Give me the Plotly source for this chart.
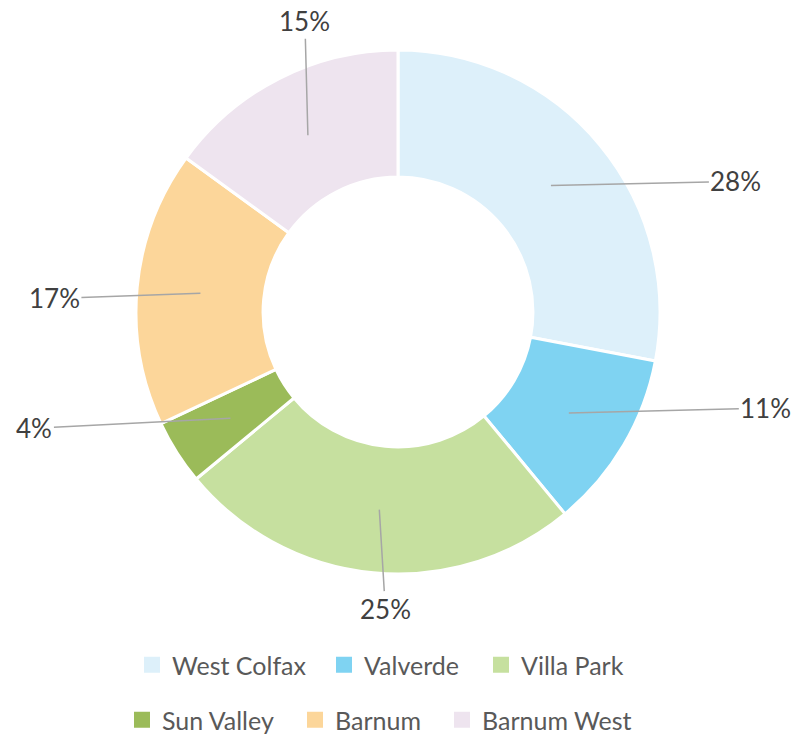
import math
import plotly.graph_objects as go

categories = ["West Colfax", "Valverde", "Villa Park", "Sun Valley", "Barnum", "Barnum West"]
values = [28, 11, 25, 4, 17, 15]
colors = ["#DDF0FA", "#7FD3F2", "#C6E09F", "#9BBB59", "#FCD69A", "#EEE4EF"]
# pixel offsets of each label from its leader-line start
label_offsets = [(185, -4), (197, -5), (6, 99), (-196, 10), (-146, 5), (-3, -114)]
# legend square left edge / row centre in window pixels
legend_pos = [(144, 665), (336, 665), (493, 665), (134, 720), (307, 720), (454, 720)]

W, H = 792, 738
cx_px, cy_px, R_px, hole = 398, 312, 262, 0.515
cx, cy = cx_px / W, 1 - cy_px / H
dx, dy = R_px / W, R_px / H

fig = go.Figure()
fig.add_trace(go.Pie(
    labels=categories, values=values, sort=False, direction="clockwise", rotation=0,
    hole=hole, marker=dict(colors=colors, line=dict(color="white", width=3)),
    textinfo="none", hoverinfo="label+percent", showlegend=False,
    domain=dict(x=[cx - dx, cx + dx], y=[cy - dy, cy + dy]),
))

total = sum(values)
cum = 0
r_mid = R_px * (1 + hole) / 2
for i, v in enumerate(values):
    mid = (cum + v / 2) / total * 2 * math.pi
    cum += v
    px = cx_px + r_mid * math.sin(mid)
    py = cy_px - r_mid * math.cos(mid)
    fig.add_annotation(
        x=px / W, y=1 - py / H, xref="paper", yref="paper",
        text=f"{round(v / total * 100)}%", showarrow=True, arrowhead=0,
        arrowwidth=1.5, arrowcolor="#A6A6A6",
        ax=label_offsets[i][0], ay=label_offsets[i][1],
        font=dict(family="Lato", size=26, color="#404040"),
    )

legends = {}
for i, name in enumerate(categories):
    key = "legend" if i == 0 else f"legend{i + 1}"
    fig.add_trace(go.Scatter(
        x=[None], y=[None], mode="markers", name=name,
        marker=dict(symbol="square", size=16, color=colors[i]),
        legend=key,
    ))
    sx, sy = legend_pos[i]
    legends[key] = dict(
        orientation="h", xanchor="left", yanchor="middle",
        xref="container", yref="container",
        x=(sx - 12) / W, y=1 - sy / H,
        font=dict(family="Lato", size=25, color="#595959"),
        bgcolor="rgba(0,0,0,0)",
    )

fig.update_layout(
    width=W, height=H, margin=dict(l=0, r=0, t=0, b=0, autoexpand=False),
    paper_bgcolor="white", plot_bgcolor="white",
    xaxis=dict(visible=False), yaxis=dict(visible=False),
    **legends,
)
fig.write_html("out.html", config={"displayModeBar": False},
               post_script="document.body.style.margin='0';")
